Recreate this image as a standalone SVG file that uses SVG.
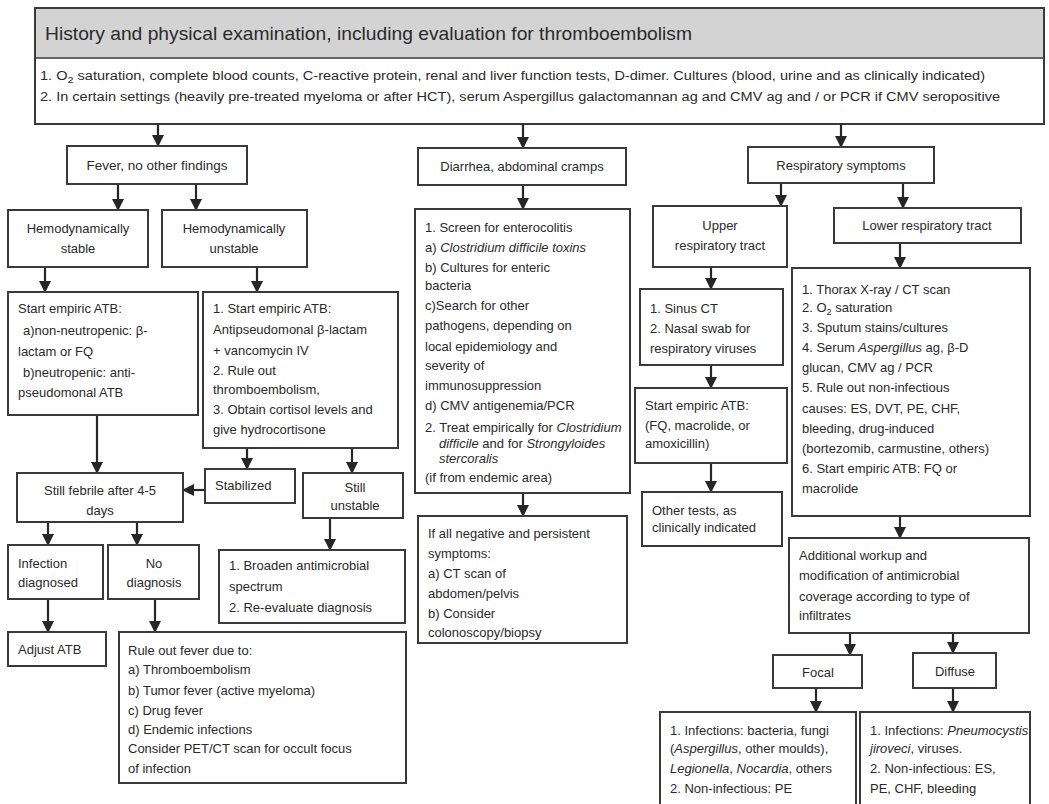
<svg xmlns="http://www.w3.org/2000/svg" width="1049" height="804" viewBox="0 0 1049 804">
<defs>
<marker id="ah" markerUnits="userSpaceOnUse" markerWidth="12" markerHeight="12" refX="11" refY="6" orient="auto">
<path d="M0,0 L12,6 L0,12 z" fill="#262626"/>
</marker>
<style>
.box{fill:#fff;stroke:#3a3a3a;stroke-width:2}
.t{font-family:"Liberation Sans",Arial,Helvetica,sans-serif;font-size:13px;fill:#2a2a2a}
.c{text-anchor:middle}
.i{font-style:italic}
.ln{stroke:#262626;stroke-width:2.2;fill:none;marker-end:url(#ah)}
</style>
</defs>
<rect width="1049" height="804" fill="#fff"/>

<g id="header">
<rect x="35" y="8" width="1009" height="116" class="box"/>
<rect x="36" y="9" width="1007" height="49" fill="#d3d3d3"/>
<line x1="35" y1="58" x2="1044" y2="58" stroke="#3a3a3a" stroke-width="1.5"/>
<text x="45" y="40" class="t" style="font-size:19px" textLength="647" lengthAdjust="spacingAndGlyphs">History and physical examination, including evaluation for thromboembolism</text>
<text x="40" y="80" class="t" style="font-size:12px" textLength="945" lengthAdjust="spacingAndGlyphs">1. O<tspan font-size="9" dy="3">2</tspan><tspan dy="-3"> saturation, complete blood counts, C-reactive protein, renal and liver function tests, D-dimer. Cultures (blood, urine and as clinically indicated)</tspan></text>
<text x="40" y="101" class="t" style="font-size:12px" textLength="960" lengthAdjust="spacingAndGlyphs">2. In certain settings (heavily pre-treated myeloma or after HCT), serum Aspergillus galactomannan ag  and CMV ag and / or PCR if CMV seropositive</text>
</g>

<g id="connectors">
<line x1="158" y1="124" x2="158" y2="146" class="ln"/>
<line x1="523" y1="124" x2="523" y2="148" class="ln"/>
<line x1="841" y1="124" x2="841" y2="147" class="ln"/>
<line x1="118" y1="184" x2="118" y2="210" class="ln"/>
<line x1="196" y1="184" x2="196" y2="210" class="ln"/>
<line x1="45" y1="267" x2="45" y2="292" class="ln"/>
<line x1="257" y1="267" x2="257" y2="292" class="ln"/>
<line x1="97" y1="415" x2="97" y2="473" class="ln"/>
<line x1="247" y1="448" x2="247" y2="469" class="ln"/>
<line x1="352" y1="448" x2="352" y2="473" class="ln"/>
<line x1="205" y1="490" x2="183" y2="490" class="ln"/>
<line x1="48" y1="522" x2="48" y2="545" class="ln"/>
<line x1="137" y1="522" x2="137" y2="545" class="ln"/>
<line x1="48" y1="599" x2="48" y2="632" class="ln"/>
<line x1="155" y1="599" x2="155" y2="632" class="ln"/>
<line x1="330" y1="518" x2="330" y2="550" class="ln"/>
<line x1="523" y1="185" x2="523" y2="209" class="ln"/>
<line x1="523" y1="493" x2="523" y2="516" class="ln"/>
<line x1="781" y1="183" x2="781" y2="206" class="ln"/>
<line x1="903" y1="183" x2="903" y2="208" class="ln"/>
<line x1="711" y1="267" x2="711" y2="289" class="ln"/>
<line x1="711" y1="365" x2="711" y2="388" class="ln"/>
<line x1="711" y1="463" x2="711" y2="492" class="ln"/>
<line x1="900" y1="243" x2="900" y2="268" class="ln"/>
<line x1="900" y1="516" x2="900" y2="538" class="ln"/>
<line x1="850" y1="633" x2="850" y2="655" class="ln"/>
<line x1="953" y1="633" x2="953" y2="653" class="ln"/>
<line x1="816" y1="688" x2="816" y2="712" class="ln"/>
<line x1="953" y1="688" x2="953" y2="712" class="ln"/>
</g>

<g id="fever">
<rect x="67" y="146" width="180" height="38" class="box"/>
<text x="157" y="170" class="t c" style="font-size:13.5px">Fever, no other findings</text>
</g>
<g id="hemo-stable">
<rect x="8" y="210" width="140" height="57" class="box"/>
<text x="78" y="233" class="t c">Hemodynamically</text>
<text x="78" y="253" class="t c">stable</text>
</g>
<g id="hemo-unstable">
<rect x="162" y="210" width="145" height="57" class="box"/>
<text x="234" y="233" class="t c">Hemodynamically</text>
<text x="234" y="253" class="t c">unstable</text>
</g>
<g id="atb-stable">
<rect x="8" y="292" width="190" height="123" class="box"/>
<text class="t" x="18" y="313">Start empiric ATB:</text>
<text class="t" x="23" y="335">a)non-neutropenic: β-</text>
<text class="t" x="18" y="356">lactam or FQ</text>
<text class="t" x="23" y="377">b)neutropenic: anti-</text>
<text class="t" x="18" y="397">pseudomonal ATB</text>
</g>
<g id="atb-unstable">
<rect x="203" y="292" width="195" height="156" class="box"/>
<text class="t" x="213" y="313">1. Start empiric ATB:</text>
<text class="t" x="213" y="334">Antipseudomonal β-lactam</text>
<text class="t" x="213" y="355">+ vancomycin IV</text>
<text class="t" x="213" y="375">2. Rule out</text>
<text class="t" x="213" y="394">thromboembolism,</text>
<text class="t" x="213" y="414">3. Obtain cortisol levels and</text>
<text class="t" x="213" y="434">give hydrocortisone</text>
</g>
<g id="still-febrile">
<rect x="17" y="473" width="166" height="49" class="box"/>
<text class="t c" x="100" y="495">Still febrile after 4-5</text>
<text class="t c" x="100" y="515">days</text>
</g>
<g id="stabilized">
<rect x="205" y="469" width="90" height="34" class="box"/>
<text class="t" x="215" y="490">Stabilized</text>
</g>
<g id="still-unstable">
<rect x="303" y="473" width="100" height="45" class="box"/>
<text class="t c" x="355" y="492">Still</text>
<text class="t c" x="355" y="510">unstable</text>
</g>
<g id="infection-diagnosed">
<rect x="8" y="545" width="95" height="54" class="box"/>
<text class="t" x="18" y="568">Infection</text>
<text class="t" x="18" y="587">diagnosed</text>
</g>
<g id="no-diagnosis">
<rect x="108" y="545" width="91" height="54" class="box"/>
<text class="t c" x="154" y="568">No</text>
<text class="t c" x="154" y="587">diagnosis</text>
</g>
<g id="adjust-atb">
<rect x="8" y="632" width="98" height="34" class="box"/>
<text class="t" x="18" y="654">Adjust ATB</text>
</g>
<g id="rule-out-fever">
<rect x="119" y="632" width="287" height="151" class="box"/>
<text class="t" x="128" y="655">Rule out fever due to:</text>
<text class="t" x="128" y="674">a) Thromboembolism</text>
<text class="t" x="128" y="695">b) Tumor fever (active myeloma)</text>
<text class="t" x="128" y="715">c) Drug fever</text>
<text class="t" x="128" y="734">d) Endemic infections</text>
<text class="t" x="128" y="753">Consider PET/CT scan for occult focus</text>
<text class="t" x="128" y="773">of infection</text>
</g>
<g id="broaden">
<rect x="219" y="550" width="186" height="73" class="box"/>
<text class="t" x="229" y="570">1. Broaden antimicrobial</text>
<text class="t" x="229" y="591">spectrum</text>
<text class="t" x="229" y="612">2. Re-evaluate diagnosis</text>
</g>

<g id="diarrhea">
<rect x="418" y="148" width="208" height="37" class="box"/>
<text class="t c" x="522" y="171">Diarrhea, abdominal cramps</text>
</g>
<g id="enterocolitis">
<rect x="415" y="209" width="215" height="284" class="box"/>
<text class="t" x="425" y="232">1. Screen for enterocolitis</text>
<text class="t" x="425" y="252">a) <tspan class="i">Clostridium difficile toxins</tspan></text>
<text class="t" x="425" y="272">b) Cultures for enteric</text>
<text class="t" x="425" y="290">bacteria</text>
<text class="t" x="425" y="310">c)Search for other</text>
<text class="t" x="425" y="330">pathogens, depending on</text>
<text class="t" x="425" y="351">local epidemiology and</text>
<text class="t" x="425" y="370">severity of</text>
<text class="t" x="425" y="390">immunosuppression</text>
<text class="t" x="425" y="410">d) CMV antigenemia/PCR</text>
<text class="t" x="425" y="432">2. Treat empirically for <tspan class="i">Clostridium</tspan></text>
<text class="t" x="439" y="448"><tspan class="i">difficile</tspan> and for <tspan class="i">Strongyloides</tspan></text>
<text class="t i" x="439" y="463">stercoralis</text>
<text class="t" x="425" y="482">(if from endemic area)</text>
</g>
<g id="all-negative">
<rect x="418" y="516" width="209" height="127" class="box"/>
<text class="t" x="428" y="538">If all negative and persistent</text>
<text class="t" x="428" y="558">symptoms:</text>
<text class="t" x="428" y="578">a) CT scan of</text>
<text class="t" x="428" y="598">abdomen/pelvis</text>
<text class="t" x="428" y="618">b) Consider</text>
<text class="t" x="428" y="637">colonoscopy/biopsy</text>
</g>

<g id="respiratory">
<rect x="748" y="147" width="186" height="36" class="box"/>
<text class="t c" x="841" y="170">Respiratory symptoms</text>
</g>
<g id="upper-resp">
<rect x="653" y="206" width="134" height="61" class="box"/>
<text class="t c" x="720" y="230">Upper</text>
<text class="t c" x="720" y="250">respiratory tract</text>
</g>
<g id="lower-resp">
<rect x="834" y="208" width="187" height="35" class="box"/>
<text class="t c" x="927" y="230">Lower respiratory tract</text>
</g>
<g id="sinus">
<rect x="640" y="289" width="143" height="76" class="box"/>
<text class="t" x="650" y="313">1. Sinus CT</text>
<text class="t" x="650" y="333">2. Nasal swab for</text>
<text class="t" x="650" y="353">respiratory viruses</text>
</g>
<g id="atb-upper">
<rect x="635" y="388" width="152" height="75" class="box"/>
<text class="t" x="645" y="410">Start empiric ATB:</text>
<text class="t" x="645" y="430">(FQ, macrolide, or</text>
<text class="t" x="645" y="448">amoxicillin)</text>
</g>
<g id="other-tests">
<rect x="642" y="492" width="140" height="54" class="box"/>
<text class="t" x="652" y="515">Other tests, as</text>
<text class="t" x="652" y="532">clinically indicated</text>
</g>
<g id="lower-workup">
<rect x="792" y="268" width="238" height="248" class="box"/>
<text class="t" x="802" y="294">1. Thorax X-ray / CT scan</text>
<text class="t" x="802" y="312">2. O<tspan font-size="9" dy="3">2</tspan><tspan dy="-3"> saturation</tspan></text>
<text class="t" x="802" y="332">3. Sputum stains/cultures</text>
<text class="t" x="802" y="352">4. Serum <tspan class="i">Aspergillus</tspan> ag, β-D</text>
<text class="t" x="802" y="372">glucan, CMV ag / PCR</text>
<text class="t" x="802" y="392">5. Rule out non-infectious</text>
<text class="t" x="802" y="413">causes: ES, DVT, PE, CHF,</text>
<text class="t" x="802" y="433">bleeding, drug-induced</text>
<text class="t" x="802" y="453">(bortezomib, carmustine, others)</text>
<text class="t" x="802" y="473">6. Start empiric ATB: FQ or</text>
<text class="t" x="802" y="493">macrolide</text>
</g>
<g id="additional">
<rect x="789" y="538" width="240" height="95" class="box"/>
<text class="t" x="799" y="560">Additional workup and</text>
<text class="t" x="799" y="580">modification of antimicrobial</text>
<text class="t" x="799" y="601">coverage according to type of</text>
<text class="t" x="799" y="620">infiltrates</text>
</g>
<g id="focal">
<rect x="773" y="655" width="89" height="33" class="box"/>
<text class="t c" x="818" y="677">Focal</text>
</g>
<g id="diffuse">
<rect x="913" y="653" width="83" height="35" class="box"/>
<text class="t c" x="955" y="676">Diffuse</text>
</g>
<g id="focal-detail">
<rect x="660" y="712" width="196" height="100" class="box"/>
<text class="t" x="670" y="735">1. Infections: bacteria, fungi</text>
<text class="t" x="670" y="753">(<tspan class="i">Aspergillus</tspan>, other moulds),</text>
<text class="t" x="670" y="773"><tspan class="i">Legionella</tspan>, <tspan class="i">Nocardia</tspan>, others</text>
<text class="t" x="670" y="793">2. Non-infectious: PE</text>
</g>
<g id="diffuse-detail">
<rect x="860" y="712" width="170" height="100" class="box"/>
<text class="t" x="870" y="735">1. Infections: <tspan class="i">Pneumocystis</tspan></text>
<text class="t" x="870" y="753"><tspan class="i">jiroveci</tspan>, viruses.</text>
<text class="t" x="870" y="773">2. Non-infectious: ES,</text>
<text class="t" x="870" y="793">PE, CHF, bleeding</text>
</g>
</svg>
